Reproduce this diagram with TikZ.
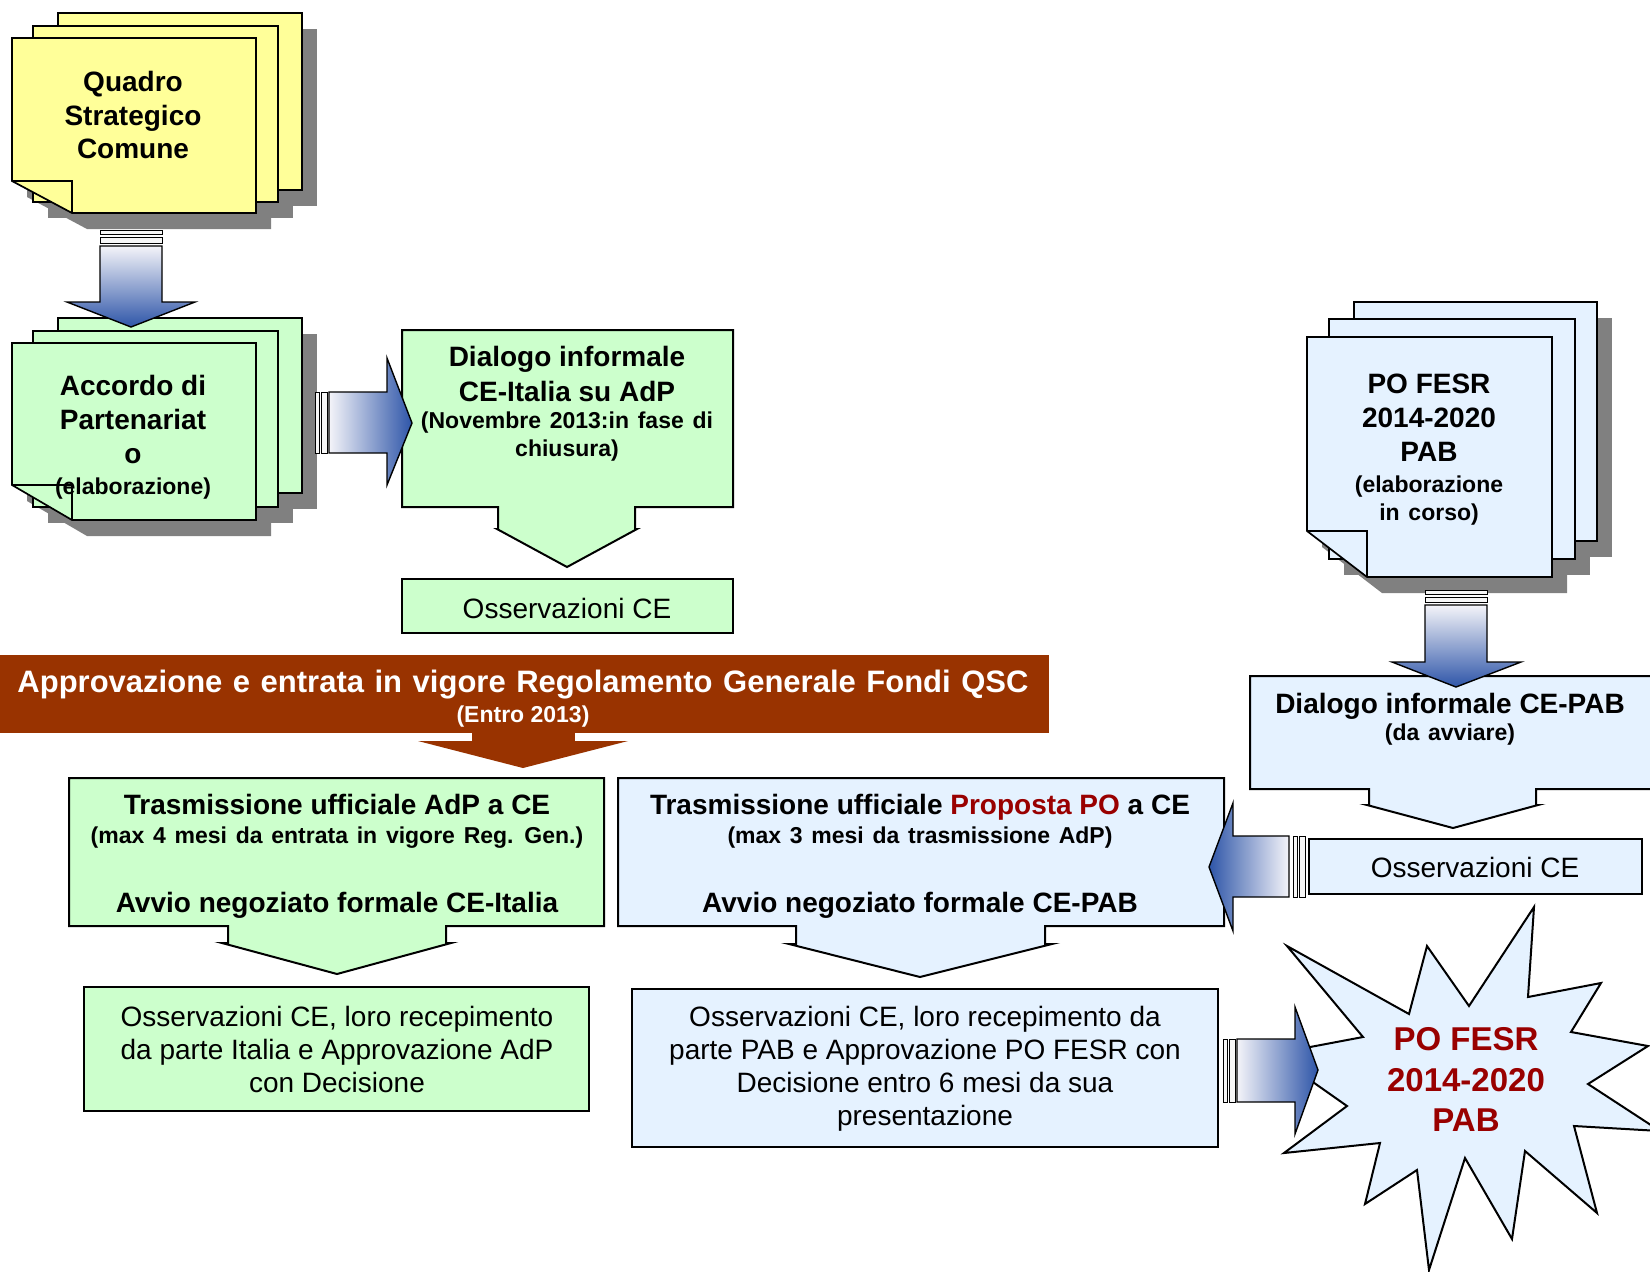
\documentclass[tikz,border=0pt]{standalone}
\usepackage{fontspec}
\setmainfont{Liberation Sans}
\definecolor{pgyellow}{HTML}{FFFF99}
\definecolor{pggreen}{HTML}{CCFFCC}
\definecolor{pgblue}{HTML}{E5F2FF}
\definecolor{barbrown}{HTML}{993300}
\definecolor{txtred}{HTML}{990000}
\definecolor{shadowgray}{HTML}{808080}
\definecolor{arrlight}{HTML}{F4F4F9}
\definecolor{arrdark}{HTML}{2E55A8}
\tikzset{
  pageline/.style={draw=black, line width=0.85pt},
  boxline/.style={draw=black, line width=1pt},
  arrline/.style={draw=black, line width=0.7pt},
  stripe/.style={draw=black, line width=0.45pt, fill=white!94!gray},
  shadowfill/.style={fill=shadowgray, shift={(15,16)}},
  tb/.style={anchor=base, inner sep=0pt, font=\fontsize{14}{17}\selectfont\bfseries},
  ts/.style={anchor=base, inner sep=0pt, font=\fontsize{11.5}{14}\selectfont\bfseries, execute at begin node={\spaceskip=0.38em\relax}},
  tr/.style={anchor=base, inner sep=0pt, font=\fontsize{14}{17}\selectfont},
  tbar/.style={anchor=base, inner sep=0pt, text=white, font=\fontsize{15.5}{18}\selectfont\bfseries, execute at begin node={\spaceskip=0.34em\relax}},
  tbars/.style={anchor=base, inner sep=0pt, text=white, font=\fontsize{11.5}{14}\selectfont\bfseries},
  tstar/.style={anchor=base, inner sep=0pt, text=txtred, font=\fontsize{16.5}{20}\selectfont\bfseries},
}
\begin{document}
\begin{tikzpicture}[x=0.5pt,y=-0.5pt, line join=miter]
\useasboundingbox (0,0) rectangle (1650,1271);
\clip (0,0) rectangle (1650,1271);
\fill[white] (0,0) rectangle (1650,1271);

% ---------- Stack: Quadro Strategico Comune ----------
\fill[shadowfill] (58,13) rectangle (302,190);
\fill[shadowfill] (33,26) rectangle (278,202);
\fill[shadowfill] (12,38) -- (256,38) -- (256,213) -- (72,213) -- (12,181) -- cycle;
\filldraw[pageline, fill=pgyellow] (58,13) rectangle (302,190);
\filldraw[pageline, fill=pgyellow] (33,26) rectangle (278,202);
\filldraw[pageline, fill=pgyellow] (12,38) -- (256,38) -- (256,213) -- (72,213) -- (12,181) -- cycle;
\draw[pageline] (12,181) -- (72,181) -- (72,213);

% ---------- Stack: Accordo di Partenariato ----------
\fill[shadowfill] (58,318) rectangle (302,493);
\fill[shadowfill] (33,331) rectangle (278,507);
\fill[shadowfill] (12,343) -- (256,343) -- (256,520) -- (72,520) -- (12,485) -- cycle;
\filldraw[pageline, fill=pggreen] (58,318) rectangle (302,493);
\filldraw[pageline, fill=pggreen] (33,331) rectangle (278,507);
\filldraw[pageline, fill=pggreen] (12,343) -- (256,343) -- (256,520) -- (72,520) -- (12,485) -- cycle;
\draw[pageline] (12,485) -- (72,485) -- (72,520);

% ---------- Stack: PO FESR ----------
\fill[shadowfill] (1354,302) rectangle (1597,541);
\fill[shadowfill] (1329,319) rectangle (1575,559);
\fill[shadowfill] (1307,337) -- (1552,337) -- (1552,577) -- (1367,577) -- (1307,531) -- cycle;
\filldraw[pageline, fill=pgblue] (1354,302) rectangle (1597,541);
\filldraw[pageline, fill=pgblue] (1329,319) rectangle (1575,559);
\filldraw[pageline, fill=pgblue] (1307,337) -- (1552,337) -- (1552,577) -- (1367,577) -- (1307,531) -- cycle;
\draw[pageline] (1307,531) -- (1367,531) -- (1367,577);

% ---------- Callout boxes and plain boxes ----------
\filldraw[boxline, fill=pggreen] (402,330) -- (733,330) -- (733,507) -- (635,507) -- (635,529) -- (637,529) -- (567,567) -- (497,529) -- (498,529) -- (498,507) -- (402,507) -- cycle;
\filldraw[boxline, fill=pggreen] (402,579) rectangle (733,633);

\filldraw[boxline, fill=pggreen] (69,778) -- (604,778) -- (604,926) -- (446,926) -- (446,943) -- (451,943) -- (337,974) -- (222,943) -- (228,943) -- (228,926) -- (69,926) -- cycle;
\filldraw[boxline, fill=pggreen] (84,987) rectangle (589,1111);

\filldraw[boxline, fill=pgblue] (618,778) -- (1224,778) -- (1224,926) -- (1045,926) -- (1045,944) -- (1052,944) -- (920,977) -- (789,944) -- (796,944) -- (796,926) -- (618,926) -- cycle;
\filldraw[boxline, fill=pgblue] (632,989) rectangle (1218,1147);

\filldraw[boxline, fill=pgblue] (1250,676) -- (1665,676) -- (1665,789) -- (1536,789) -- (1536,805) -- (1538,805) -- (1453,828) -- (1367,805) -- (1369,805) -- (1369,789) -- (1250,789) -- cycle;
\filldraw[boxline, fill=pgblue] (1309,839) rectangle (1642,894);

% ---------- Starburst ----------
\filldraw[boxline, fill=pgblue] (1287,946) -- (1409,1014) -- (1427,946) -- (1469,1006) -- (1534,907) -- (1528,997) -- (1601,983) -- (1571,1032) -- (1648,1046) -- (1588,1084) -- (1660,1131) -- (1574,1126) -- (1597,1213) -- (1525,1151) -- (1512,1239) -- (1465,1158) -- (1429,1270) -- (1417,1170) -- (1365,1204) -- (1380,1143) -- (1284,1153) -- (1347,1106) -- (1273,1054) -- (1363,1037) -- cycle;

% ---------- Brown bar ----------
\fill[barbrown] (0,655) rectangle (1049,733);
\fill[barbrown] (472,732) rectangle (575,742);
\fill[barbrown] (418,741) -- (628,741) -- (523,768) -- cycle;

% ---------- Block arrows ----------
% QSC -> Accordo (down)
\filldraw[stripe] (100,230) rectangle (162,234);
\filldraw[stripe] (100,237) rectangle (162,243);
\path[arrline, top color=arrlight, bottom color=arrdark] (100,246) -- (162,246) -- (162,302) -- (195,302) -- (131,327) -- (67,302) -- (100,302) -- cycle;

% Accordo -> Dialogo (right)
\filldraw[stripe] (315,392) rectangle (319,453);
\filldraw[stripe] (321,392) rectangle (327,453);
\path[arrline, left color=arrlight, right color=arrdark] (329,392) -- (387,392) -- (387,358) -- (412,423) -- (387,485) -- (387,453) -- (329,453) -- cycle;

% PO FESR -> Dialogo CE-PAB (down)
\filldraw[stripe] (1425,590) rectangle (1487,594);
\filldraw[stripe] (1425,597) rectangle (1487,602);
\path[arrline, top color=arrlight, bottom color=arrdark] (1425,605) -- (1487,605) -- (1487,662) -- (1521,662) -- (1456,687) -- (1392,662) -- (1425,662) -- cycle;

% Osservazioni CE (right) -> Trasmissione PO (left)
\filldraw[stripe] (1299,836) rectangle (1305,897);
\filldraw[stripe] (1293,836) rectangle (1297,897);
\path[arrline, left color=arrdark, right color=arrlight] (1289,836) -- (1233,836) -- (1233,803) -- (1209,867) -- (1233,931) -- (1233,897) -- (1289,897) -- cycle;

% Osservazioni PO -> starburst (right)
\filldraw[stripe] (1223,1039) rectangle (1227,1102);
\filldraw[stripe] (1229,1039) rectangle (1235,1102);
\path[arrline, left color=arrlight, right color=arrdark] (1237,1039) -- (1295,1039) -- (1295,1007) -- (1318,1070) -- (1295,1134) -- (1295,1102) -- (1237,1102) -- cycle;

% ---------- Texts ----------
\node[tb] (qsc1) at (133,91) {Quadro};
\node[tb] (qsc2) at (133,125) {Strategico};
\node[tb] (qsc3) at (133,158) {Comune};

\node[tb] (adp1) at (133,395) {Accordo di};
\node[tb] (adp2) at (133,429) {Partenariat};
\node[tb] (adp3) at (133,463) {o};
\node[ts] (adp4) at (133,494) {(elaborazione)};

\node[tb] (dia1) at (567,366) {Dialogo informale};
\node[tb] (dia2) at (567,401) {CE-Italia su AdP};
\node[ts] (dia3) at (567,428) {(Novembre 2013:in fase di};
\node[ts] (dia4) at (567,456) {chiusura)};

\node[tr] (oss1) at (567,618) {Osservazioni CE};

\node[tbar] (bar1) at (523,692) {Approvazione e entrata in vigore Regolamento Generale Fondi QSC};
\node[tbars] (bar2) at (523,722) {(Entro 2013)};

\node[tb] (tra1) at (337,814) {Trasmissione ufficiale AdP a CE};
\node[ts] (tra2) at (337,843) {(max 4 mesi da entrata in vigore Reg. Gen.)};
\node[tb] (tra3) at (337,912) {Avvio negoziato formale CE-Italia};

\node[tb] (trp1) at (920,814) {Trasmissione ufficiale {\color{txtred}Proposta PO} a CE};
\node[ts] (trp2) at (920,843) {(max 3 mesi da trasmissione AdP)};
\node[tb] (trp3) at (920,912) {Avvio negoziato formale CE-PAB};

\node[tr] (osa1) at (337,1026) {Osservazioni CE, loro recepimento};
\node[tr] (osa2) at (337,1059) {da parte Italia e Approvazione AdP};
\node[tr] (osa3) at (337,1092) {con Decisione};

\node[tr] (osp1) at (925,1026) {Osservazioni CE, loro recepimento da};
\node[tr] (osp2) at (925,1059) {parte PAB e Approvazione PO FESR con};
\node[tr] (osp3) at (925,1092) {Decisione entro 6 mesi da sua};
\node[tr] (osp4) at (925,1125) {presentazione};

\node[tb] (dpab1) at (1450,713) {Dialogo informale CE-PAB};
\node[ts] (dpab2) at (1450,740) {(da avviare)};

\node[tr] (ossr) at (1475,877) {Osservazioni CE};

\node[tb] (po1) at (1429,393) {PO FESR};
\node[tb] (po2) at (1429,427) {2014-2020};
\node[tb] (po3) at (1429,461) {PAB};
\node[ts] (po4) at (1429,492) {(elaborazione};
\node[ts] (po5) at (1429,520) {in corso)};

\node[tstar] (st1) at (1466,1050) {PO FESR};
\node[tstar] (st2) at (1466,1091) {2014-2020};
\node[tstar] (st3) at (1466,1131) {PAB};
\end{tikzpicture}
\end{document}
